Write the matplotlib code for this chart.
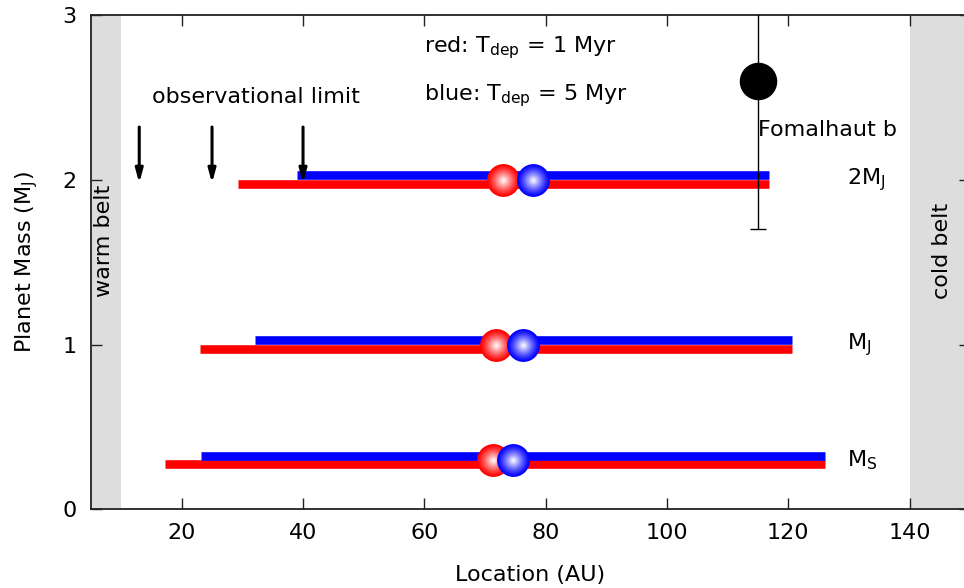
import numpy as np
import matplotlib
matplotlib.use("Agg")
import matplotlib.pyplot as plt
from matplotlib.colors import to_rgb

# Planet masses (in Jupiter masses) and their labels
masses = [0.3, 1.0, 2.0]
mass_labels = ["M$_\\mathregular{S}$", "M$_\\mathregular{J}$", "2M$_\\mathregular{J}$"]

# Migration ranges (AU) for the two disc depletion times
red_inner = [17.2, 23.0, 29.3]
red_outer = [126.0, 120.6, 116.8]
blue_inner = [23.2, 32.1, 39.0]
blue_outer = [126.0, 120.6, 116.8]

# Final planet locations (AU)
red_final = [71.4, 71.8, 72.9]
blue_final = [74.6, 76.3, 77.9]

# Fomalhaut b
fom_x = 115.0
fom_y = 2.6
fom_err_low = 0.9
fom_err_high = 0.9

# Observational limits (AU)
obs_limits = [13, 25, 40]
obs_top, obs_tip = 2.32, 1.98

# Debris belts (AU)
warm_belt = (5, 10)
cold_belt = (140, 150)

plt.rcParams["font.family"] = "DejaVu Sans"
plt.rcParams["mathtext.default"] = "regular"

FS = 16

fig = plt.figure(figsize=(9.64, 5.88), dpi=100)
ax = fig.add_axes([0.0941, 0.1338, 0.9124, 0.8407])
ax.set_xlim(5, 150)
ax.set_ylim(0, 3)

ax.axvspan(*warm_belt, color="#dddddd", lw=0, zorder=0)
ax.axvspan(*cold_belt, color="#dddddd", lw=0, zorder=0)

off = 0.026
bar_lw = 6.2
for m, ri, ro, bi, bo in zip(masses, red_inner, red_outer, blue_inner, blue_outer):
    ax.plot([ri, ro], [m - off, m - off], color="#ff0000", lw=bar_lw,
            solid_capstyle="butt", zorder=2)
    ax.plot([bi, bo], [m + off, m + off], color="#0000ff", lw=bar_lw,
            solid_capstyle="butt", zorder=2)


def sphere(x, y, color, size, z):
    base = np.array(to_rgb(color))
    n = 18
    for i in range(n):
        r = 1.0 - i / n
        w = min(0.95, (1 - r) ** 1.2 * 1.05)
        c = base * (1 - w) + np.ones(3) * w
        ax.scatter([x], [y], s=size * r ** 2, color=[c], lw=0, zorder=z)


for m, rf, bf in zip(masses, red_final, blue_final):
    sphere(rf, m, "#ff0000", 560, 4)
    sphere(bf, m, "#0000ff", 560, 5)

for m, lab in zip(masses, mass_labels):
    ax.text(129.7, m, lab, fontsize=FS, va="center", ha="left")

# Fomalhaut b with its mass uncertainty
ax.errorbar([fom_x], [fom_y], yerr=[[fom_err_low], [fom_err_high]], fmt="o",
            color="black", ms=26, lw=1, capsize=6, capthick=1, zorder=6)
ax.text(fom_x, 2.30, "Fomalhaut b", fontsize=FS, va="center", ha="left")

for xl in obs_limits:
    ax.annotate("", xy=(xl, obs_tip), xytext=(xl, obs_top),
                arrowprops=dict(arrowstyle="-|>,head_length=0.8,head_width=0.22",
                                lw=2.2, color="black", shrinkA=0, shrinkB=0),
                zorder=7)
ax.text(32.3, 2.5, "observational limit", fontsize=FS, va="center", ha="center")

ax.text(60, 2.8, "red: T$_{dep}$ = 1 Myr", fontsize=FS, va="center", ha="left")
ax.text(60, 2.51, "blue: T$_{dep}$ = 5 Myr", fontsize=FS, va="center", ha="left")

ax.text(7.2, 1.63, "warm belt", fontsize=FS, rotation=90, va="center", ha="center")
ax.text(145.3, 1.57, "cold belt", fontsize=FS, rotation=90, va="center", ha="center")

ax.set_xticks([20, 40, 60, 80, 100, 120, 140])
ax.set_yticks([0, 1, 2, 3])
ax.tick_params(direction="in", length=8, width=1, labelsize=FS,
               top=True, right=True, pad=10, color="#222222")
ax.tick_params(axis="x", pad=10)
for sp in ax.spines.values():
    sp.set_linewidth(1.3)
    sp.set_color("#222222")

ax.set_xlabel("Location (AU)", fontsize=FS, labelpad=16)
ax.set_ylabel("Planet Mass (M$_J$)", fontsize=FS, labelpad=16)

fig.savefig("out.png", dpi=100)
